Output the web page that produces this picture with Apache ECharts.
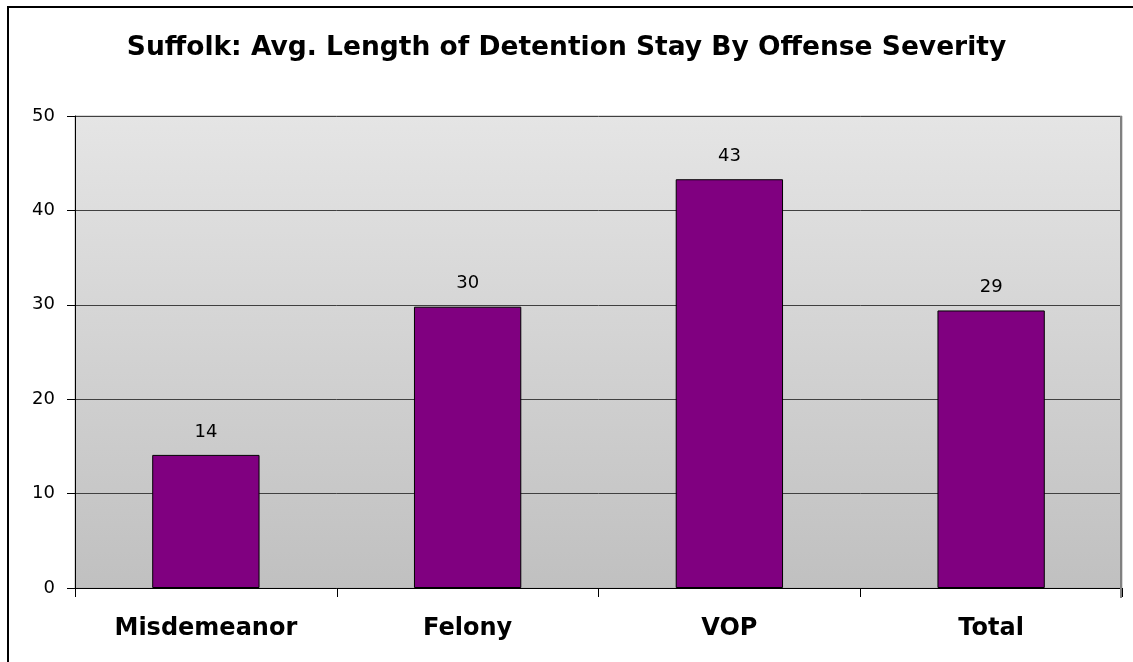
<!DOCTYPE html>
<html>
<head>
<meta charset="utf-8">
<script src="https://cdn.jsdelivr.net/npm/echarts@6/dist/echarts.min.js"></script>
<style>
  html, body { margin: 0; padding: 0; background: #fff; }
  #chart { width: 1133px; height: 662px; }
</style>
</head>
<body>
<div id="chart"></div>
<script>
// Average length of detention stay (days) by offense severity
const categories = ['Misdemeanor', 'Felony', 'VOP', 'Total'];
const avgStay = [14.1, 29.8, 43.3, 29.4];
const yTicks = { min: 0, max: 50, interval: 10 };

const FONT = 'DejaVu Sans, Liberation Sans, Arial, sans-serif';

const chart = echarts.init(document.getElementById('chart'), null, { renderer: 'canvas' });

chart.setOption({
  animation: false,
  backgroundColor: '#ffffff',
  title: {
    text: 'Suffolk: Avg. Length of Detention Stay By Offense Severity',
    left: 'center',
    top: 30,
    textStyle: {
      fontFamily: FONT,
      fontWeight: 'bold',
      fontSize: 26.5,
      color: '#000'
    }
  },
  graphic: [
    {
      // outer chart frame (open on the right and bottom)
      type: 'rect',
      z: -10,
      shape: { x: 8, y: 7, width: 1200, height: 700 },
      style: { fill: 'transparent', stroke: '#000', lineWidth: 2 }
    }
  ],
  grid: {
    left: 75,
    right: 11,
    top: 116,
    bottom: 74,
    show: true,
    borderWidth: 1,
    borderColor: '#b0b0b0',
    backgroundColor: new echarts.graphic.LinearGradient(0, 0, 0, 1, [
      { offset: 0, color: '#e5e5e5' },
      { offset: 1, color: '#c0c0c0' }
    ])
  },
  xAxis: {
    type: 'category',
    data: categories,
    axisLine: { show: true, lineStyle: { color: '#000', width: 1 } },
    axisTick: { show: true, length: 9, lineStyle: { color: '#000' } },
    axisLabel: {
      margin: 29,
      fontFamily: FONT,
      fontWeight: 'bold',
      fontSize: 24,
      color: '#000'
    },
    splitLine: { show: false }
  },
  yAxis: {
    type: 'value',
    min: yTicks.min,
    max: yTicks.max,
    interval: yTicks.interval,
    axisLine: { show: true, lineStyle: { color: '#000', width: 1 } },
    axisTick: { show: true, length: 8, lineStyle: { color: '#000' } },
    axisLabel: {
      margin: 20,
      fontFamily: FONT,
      fontSize: 18,
      color: '#000'
    },
    splitLine: { show: true, lineStyle: { color: '#404040', width: 1 } }
  },
  series: [
    {
      type: 'bar',
      data: avgStay,
      barWidth: '41%',
      itemStyle: { color: '#800080', borderColor: '#000', borderWidth: 1 },
      label: {
        show: true,
        position: 'top',
        distance: 14,
        formatter: p => Math.round(p.value).toString(),
        fontFamily: FONT,
        fontSize: 18,
        color: '#000'
      }
    },
    {
      // darker right edge of the plot area
      type: 'line',
      data: [],
      markLine: {
        silent: true,
        symbol: 'none',
        label: { show: false },
        lineStyle: { color: '#808080', width: 2, type: 'solid' },
        data: [[{ x: 1121, y: 116 }, { x: 1121, y: 598 }]]
      }
    }
  ]
});
</script>
</body>
</html>
